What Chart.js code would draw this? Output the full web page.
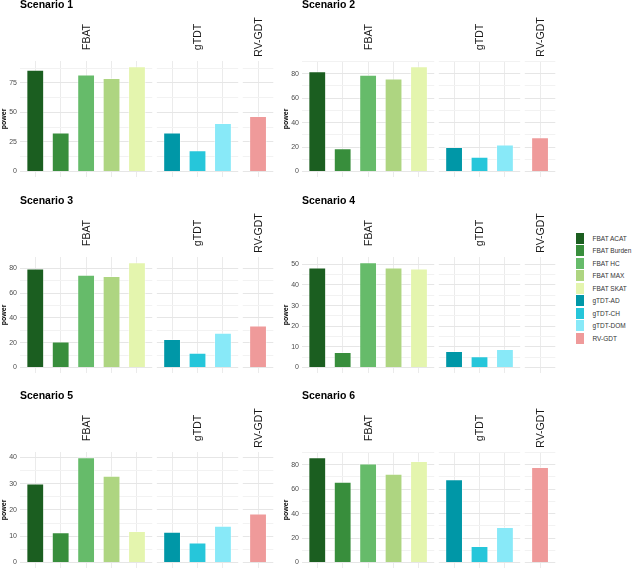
<!DOCTYPE html>
<html>
<head>
<meta charset="utf-8">
<title>Power by scenario</title>
<script src="https://cdn.jsdelivr.net/npm/chart.js@4.4.0/dist/chart.umd.min.js"></script>
<style>
  body { margin: 0; background: #fff; width: 633px; height: 574px; overflow: hidden; position: relative;
         font-family: "Liberation Sans", Arial, sans-serif; }
  canvas { position: absolute; }
  #legend { position: absolute; left: 576px; top: 232px; }
  .item { height: 12.5px; display: flex; align-items: center; white-space: nowrap; }
  .key { width: 7.5px; height: 11px; margin-right: 9px; flex: none; }
  .item span { font-size: 6.5px; color: #333; }
</style>
</head>
<body>
<div id="legend"></div>
<script>
// ---- data ----
const categories = ['FBAT ACAT', 'FBAT Burden', 'FBAT HC', 'FBAT MAX', 'FBAT SKAT', 'gTDT-AD', 'gTDT-CH', 'gTDT-DOM', 'RV-GDT'];
const facetOf = ['FBAT', 'FBAT', 'FBAT', 'FBAT', 'FBAT', 'gTDT', 'gTDT', 'gTDT', 'RV-GDT'];
const facets = ['FBAT', 'gTDT', 'RV-GDT'];
const colors = ['#1b5e20', '#388e3c', '#66bb6a', '#aed581', '#e4f5ae', '#0097a7', '#26c6da', '#88e9f8', '#ef9a9a'];

const scenarioNames = ['Scenario 1', 'Scenario 2', 'Scenario 3', 'Scenario 4', 'Scenario 5', 'Scenario 6'];
const scenario1 = [86, 33, 82, 79, 89, 33, 18, 41, 47];
const scenario2 = [82, 19, 79, 76, 86, 20, 12, 22, 28];
const scenario3 = [80, 21, 75, 74, 85, 23, 12, 28, 34];
const scenario4 = [48.5, 7.5, 51, 48.5, 48, 8, 5.5, 9, null];
const scenario5 = [30, 11.5, 40, 33, 12, 11.7, 7.6, 14, 18.6];
const scenario6 = [86, 66, 81, 72.5, 83, 68, 13.5, 29, 78];
const yStep = [25, 20, 20, 10, 10, 20];   // y tick spacing per scenario

const scenarios = [scenario1, scenario2, scenario3, scenario4, scenario5, scenario6];

// bars sit one unit apart inside a facet; facets get a small gap between them
const facetGap = 0.18;
const pad = 0.6;
const xPos = categories.map((c, i) => i + facets.indexOf(facetOf[i]) * (2 * pad - 1 + facetGap));
const facetRange = facets.map(f => {
  const xs = xPos.filter((x, i) => facetOf[i] === f);
  return [Math.min(...xs) - pad, Math.max(...xs) + pad];
});

// ---- legend ----
const legend = document.getElementById('legend');
categories.forEach((c, i) => {
  const row = document.createElement('div');
  row.className = 'item';
  row.innerHTML = '<div class="key" style="background:' + colors[i] + '"></div><span>' + c + '</span>';
  legend.appendChild(row);
});

// white gaps between facets, titles and rotated strip labels
const facetPlugin = {
  id: 'facets',
  beforeDatasetsDraw(chart) {
    const { ctx, chartArea } = chart;
    const x = chart.scales.x;
    ctx.save();
    ctx.fillStyle = '#fff';
    for (let f = 0; f < facets.length - 1; f++) {
      const a = x.getPixelForValue(facetRange[f][1]);
      const b = x.getPixelForValue(facetRange[f + 1][0]);
      ctx.fillRect(a, chartArea.top - 1, b - a, chartArea.bottom - chartArea.top + 2);
    }
    ctx.restore();
  },
  afterDraw(chart, args, opts) {
    const { ctx, chartArea } = chart;
    const x = chart.scales.x;
    ctx.save();
    ctx.fillStyle = '#000';
    ctx.font = 'bold 10.5px "Liberation Sans", Arial, sans-serif';
    ctx.textBaseline = 'middle';
    ctx.textAlign = 'left';
    ctx.fillText(opts.title, chartArea.left, chartArea.top - 56);

    ctx.fillStyle = '#1a1a1a';
    ctx.font = '10.5px "Liberation Sans", Arial, sans-serif';
    ctx.textAlign = 'center';
    facets.forEach((f, k) => {
      const cx = (x.getPixelForValue(facetRange[k][0]) + x.getPixelForValue(facetRange[k][1])) / 2;
      ctx.save();
      ctx.translate(cx + 1, chartArea.top - 24);
      ctx.rotate(-Math.PI / 2);
      ctx.fillText(f, 0, 0);
      ctx.restore();
    });
    ctx.restore();
  }
};

scenarios.forEach((values, s) => {
  const col = s % 2, row = Math.floor(s / 2);
  const canvas = document.createElement('canvas');
  canvas.width = 282;
  canvas.height = 184;
  canvas.style.left = (col * 282) + 'px';
  canvas.style.top = [0, 195.5, 390.5][row] + 'px';
  document.body.appendChild(canvas);

  const vmax = Math.max(...values.filter(v => v !== null));
  const step = yStep[s];

  new Chart(canvas, {
    type: 'bar',
    data: {
      datasets: [{
        data: values.map((v, i) => ({ x: xPos[i], y: v })),
        backgroundColor: colors,
        borderColor: 'rgba(255,255,255,0.45)',
        borderWidth: 1,
        categoryPercentage: 1,
        barPercentage: 0.7
      }]
    },
    options: {
      responsive: false,
      animation: false,
      devicePixelRatio: 1,
      layout: { padding: { top: 61, right: 8.7, bottom: 1, left: 0 } },
      plugins: {
        legend: { display: false },
        tooltip: { enabled: false },
        facets: { title: scenarioNames[s] }
      },
      scales: {
        x: {
          type: 'linear',
          offset: false,
          min: facetRange[0][0],
          max: facetRange[facets.length - 1][1],
          afterBuildTicks: scale => { scale.ticks = xPos.map(v => ({ value: v })); },
          afterFit: scale => { scale.height = 0; },
          ticks: { display: false },
          grid: { color: '#ebebeb', lineWidth: 1, drawTicks: false, offset: false },
          border: { display: false }
        },
        y: {
          min: -0.05 * vmax,
          max: 1.05 * vmax,
          afterBuildTicks: scale => {
            const t = [];
            for (let v = 0; v <= 1.05 * vmax; v += step / 2) t.push({ value: v });
            scale.ticks = t;
          },
          afterFit: scale => { scale.width = 20; },
          ticks: {
            autoSkip: false,
            padding: 3,
            color: '#4d4d4d',
            font: { size: 7, family: '"Liberation Sans", Arial, sans-serif' },
            callback: v => (v % step === 0 ? v : '')
          },
          grid: {
            drawTicks: false,
            color: c => (c.tick && c.tick.value % step === 0 ? '#e6e6e6' : '#f2f2f2'),
            lineWidth: 1
          },
          border: { display: false },
          title: {
            display: true,
            text: 'power',
            color: '#000',
            padding: 0,
            font: { size: 7, weight: 'bold', family: '"Liberation Sans", Arial, sans-serif' }
          }
        }
      }
    },
    plugins: [facetPlugin]
  });
});
</script>
</body>
</html>
